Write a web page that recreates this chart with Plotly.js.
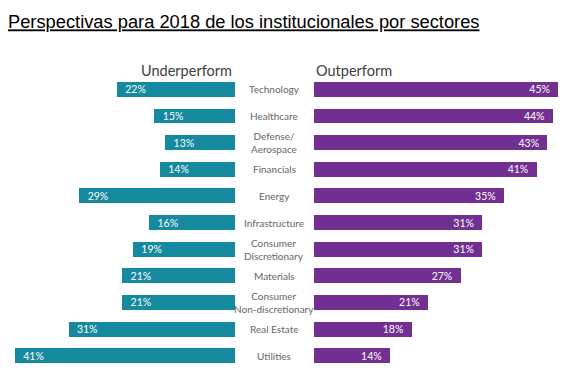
<!DOCTYPE html>
<html><head><meta charset="utf-8">
<script src="https://cdn.plot.ly/plotly-3.0.1.min.js"></script>
<style>html,body{margin:0;padding:0;background:#fff}</style>
</head><body><div id="chart" style="width:581px;height:378px"></div>
<script>
var sectors = ["Technology","Healthcare","Defense/<br>Aerospace","Financials","Energy","Infrastructure","Consumer<br>Discretionary","Materials","Consumer<br>Non-discretionary","Real Estate","Utilities"];
var underperform = [22,15,13,14,29,16,19,21,21,31,41];
var outperform = [45,44,43,41,35,31,31,27,21,18,14];
var idx = sectors.map(function(_,i){return i;});

var W=581,H=378;
var traces = [
 {type:'bar', orientation:'h', x:underperform, y:idx, xaxis:'x', yaxis:'y', width:0.56,
  marker:{color:'#15899d'}, text:underperform.map(function(v){return '\u00a0\u00a0'+v+'%\u00a0\u00a0';}),
  textposition:'inside', insidetextanchor:'end', constraintext:'none', cliponaxis:false,
  insidetextfont:{color:'#ffffff', size:10.5, family:'Lato, sans-serif'}, hoverinfo:'none', showlegend:false},
 {type:'bar', orientation:'h', x:outperform, y:idx, xaxis:'x2', yaxis:'y', width:0.56,
  marker:{color:'#722f92'}, text:outperform.map(function(v){return '\u00a0\u00a0'+v+'%\u00a0\u00a0';}),
  textposition:'inside', insidetextanchor:'end', constraintext:'none', cliponaxis:false,
  insidetextfont:{color:'#ffffff', size:10.5, family:'Lato, sans-serif'}, hoverinfo:'none', showlegend:false}
];
var ann = sectors.map(function(s,i){
  return {xref:'paper', yref:'y', x:274/W, y:i, text:s, showarrow:false, xanchor:'center', yanchor:'middle',
    font:{family:'Lato, sans-serif', size:10, color:'#666666'}, align:'center'};
});
ann.push({xref:'paper', yref:'paper', x:186/W, y:1, yshift:6, text:'Underperform', showarrow:false, xanchor:'center', yanchor:'middle',
  font:{family:'Lato, sans-serif', size:14.5, color:'#404040'}});
ann.push({xref:'paper', yref:'paper', x:314/W, y:1, yshift:6, text:'Outperform', showarrow:false, xanchor:'left', yanchor:'middle',
  font:{family:'Lato, sans-serif', size:14.5, color:'#404040'}});

var marginTop = 76.2, marginBottom = 378-368.8;
var layout = {
  width:W, height:H, margin:{l:0,r:0,t:marginTop,b:marginBottom,pad:0},
  paper_bgcolor:'#ffffff', plot_bgcolor:'#ffffff',
  title:{text:'<u>Perspectivas para 2018 de los institucionales por sectores</u>', x:8/W, xanchor:'left', xref:'container',
    yref:'container', y:1-22/H, yanchor:'middle', font:{family:'Arial, Liberation Sans, sans-serif', size:18.3, color:'#000'}},
  xaxis:{domain:[0,235/W], range:[235/5.37,0], visible:false, fixedrange:true},
  xaxis2:{domain:[314/W,1], range:[0,(W-314)/5.43], visible:false, fixedrange:true},
  yaxis:{range:[10.5,-0.5], visible:false, fixedrange:true},
  annotations:ann, bargap:0
};
Plotly.newPlot('chart', traces, layout, {staticPlot:true});
</script></body></html>
